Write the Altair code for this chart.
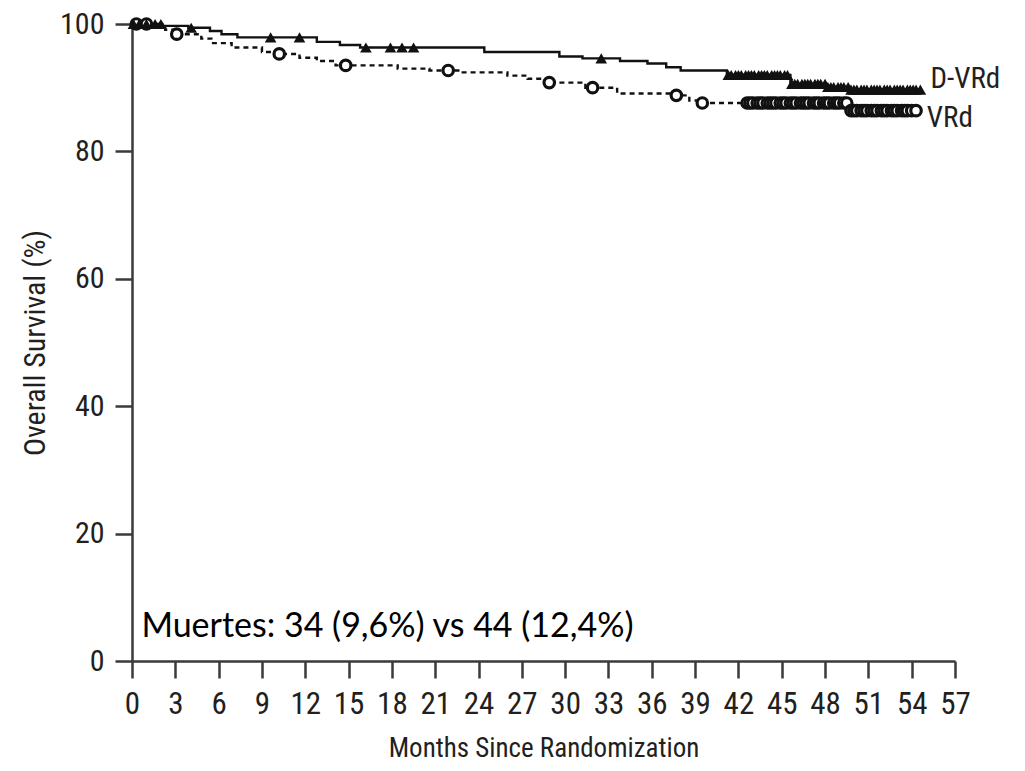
import altair as alt
import pandas as pd
import numpy as np

# ---- data ----
dvrd_t = [0, 2.1, 3.9, 5.4, 6.2, 7.3, 12.8, 14.4, 15.8, 24.4, 29.6, 31.2, 33.8, 35.7, 37.0, 38.0, 41.2, 45.6, 48.1, 49.7, 54.6]
dvrd_s = [100, 99.7, 99.4, 98.9, 98.4, 97.9, 97.2, 96.7, 96.3, 95.6, 94.9, 94.6, 94.2, 93.8, 93.2, 92.7, 92.0, 90.6, 90.1, 89.7, 89.7]

vrd_t = [0, 1.2, 2.3, 2.8, 4.8, 5.5, 6.9, 9.0, 9.7, 11.6, 12.8, 14.1, 18.4, 20.6, 22.7, 26.0, 27.4, 28.6, 31.4, 33.6, 37.3, 38.6, 39.3, 49.7, 54.4]
vrd_s = [100, 99.7, 99.1, 98.4, 97.7, 97.0, 96.3, 95.6, 95.3, 94.7, 94.2, 93.5, 93.0, 92.7, 92.4, 91.9, 91.4, 90.8, 90.0, 89.1, 88.8, 88.0, 87.6, 86.4, 86.4]

dvrd_cens = [0.1, 0.5, 1.0, 1.6, 2.0, 4.1, 9.6, 11.6, 16.2, 17.9, 18.7, 19.5, 32.5,
             41.3, 41.5, 41.8, 42.0, 42.2, 42.5, 42.7, 42.9, 43.1, 43.4, 43.6, 43.8, 44.0, 44.3,
             44.5, 44.7, 44.9, 45.2, 45.4, 45.7, 45.9, 46.1, 46.4, 46.6, 46.8, 47.0, 47.3, 47.5,
             47.7, 48.0, 48.2, 48.4, 48.6, 48.9, 49.1, 49.3, 49.6, 49.8, 50.0, 50.2, 50.5, 50.7,
             50.9, 51.2, 51.4, 51.6, 51.8, 52.1, 52.3, 52.5, 52.8, 53.0, 53.2, 53.4, 53.7, 53.9,
             54.1, 54.3, 54.6]
vrd_cens = [0.3, 1.0, 3.1, 10.2, 14.8, 21.9, 28.9, 31.9, 37.7, 39.5,
            42.6, 42.8, 43.0, 43.3, 43.5, 43.7, 44.0, 44.2, 44.4, 44.6, 44.9, 45.1, 45.3, 45.6,
            45.8, 46.0, 46.3, 46.5, 46.7, 46.9, 47.2, 47.4, 47.6, 47.9, 48.1, 48.3, 48.6, 48.8,
            49.0, 49.3, 49.5, 49.8, 50.0, 50.2, 50.5, 50.7, 50.9, 51.2, 51.4, 51.6, 51.9, 52.1,
            52.3, 52.6, 52.8, 53.0, 53.3, 53.5, 53.7, 54.0, 54.3]

series_names = ["D-VRd", "VRd"]
label_t = [55.3, 55.05]
label_s = [91.3, 85.3]

x_ticks = list(range(0, 58, 3))
y_ticks = [0, 20, 40, 60, 80, 100]

note_text = ["Muertes: 34 (9,6%) vs 44 (12,4%)"]
note_t = [0.65]
note_s = [3.7]


def step_value(times, surv, t):
    idx = np.searchsorted(np.array(times), t, side="right") - 1
    return surv[max(idx, 0)]


dvrd_df = pd.DataFrame({"t": dvrd_t, "s": dvrd_s})
vrd_df = pd.DataFrame({"t": vrd_t, "s": vrd_s})
dvrd_c = pd.DataFrame({"t": dvrd_cens, "s": [step_value(dvrd_t, dvrd_s, t) for t in dvrd_cens]})
vrd_c = pd.DataFrame({"t": vrd_cens, "s": [step_value(vrd_t, vrd_s, t) for t in vrd_cens]})
lab_df = pd.DataFrame({"name": series_names, "t": label_t, "s": label_s})
note_df = pd.DataFrame({"txt": note_text, "t": note_t, "s": note_s})

NARROW = "Liberation Sans Narrow, Roboto Condensed, DejaVu Sans Condensed, Arial Narrow, sans-serif"
INK = "#231f20"
AXC = "#3a3a3a"

xscale = alt.Scale(domain=[0, 57], nice=False, zero=False)
yscale = alt.Scale(domain=[0, 100], nice=False)

xaxis = alt.Axis(values=x_ticks, title="Months Since Randomization", grid=False,
                 tickSize=17, tickWidth=2.5, domainWidth=2.5, domainColor=AXC, tickColor=AXC,
                 labelFont=NARROW, labelFontSize=31, labelColor=INK, labelPadding=11,
                 titleFont=NARROW, titleFontSize=27, titleFontWeight="normal", titleColor=INK,
                 titlePadding=16, labelFlush=False)
yaxis = alt.Axis(values=y_ticks, title="Overall Survival (%)", grid=False,
                 tickSize=17, tickWidth=2.5, domainWidth=2.5, domainColor=AXC, tickColor=AXC,
                 labelFont=NARROW, labelFontSize=30, labelColor=INK, labelPadding=11,
                 titleFont=NARROW, titleFontSize=30, titleFontWeight="normal", titleColor=INK,
                 titlePadding=9, labelFlush=False)

enc_x = alt.X("t:Q", scale=xscale, axis=xaxis)
enc_y = alt.Y("s:Q", scale=yscale, axis=yaxis)

line_d = alt.Chart(dvrd_df).mark_line(interpolate="step-after", color="#111", strokeWidth=2.4).encode(x=enc_x, y=enc_y)
line_v = alt.Chart(vrd_df).mark_line(interpolate="step-after", color="#111", strokeWidth=2.4, strokeDash=[5, 4]).encode(
    x=alt.X("t:Q", scale=xscale), y=alt.Y("s:Q", scale=yscale))

circ = alt.Chart(vrd_c).mark_point(shape="circle", filled=False, color="#111", fill="white",
                                   fillOpacity=1, strokeWidth=3.2, size=110, opacity=1).encode(
    x=alt.X("t:Q", scale=xscale), y=alt.Y("s:Q", scale=yscale))
tri = alt.Chart(dvrd_c).mark_point(shape="triangle-up", filled=True, color="#111", size=135, opacity=1).encode(
    x=alt.X("t:Q", scale=xscale), y=alt.Y("s:Q", scale=yscale))

labels = alt.Chart(lab_df).mark_text(align="left", baseline="middle", font=NARROW, fontSize=29, color=INK).encode(
    x=alt.X("t:Q", scale=xscale), y=alt.Y("s:Q", scale=yscale), text="name:N")

note = alt.Chart(note_df).mark_text(align="left", baseline="alphabetic", font="Lato, Open Sans, sans-serif",
                                     fontSize=34, color="#000").encode(
    x=alt.X("t:Q", scale=xscale), y=alt.Y("s:Q", scale=yscale), text="txt:N")

chart = alt.layer(line_d, line_v, circ, tri, labels, note).properties(
    width=823, height=637,
    padding={"left": 124, "top": 16, "right": 62, "bottom": 108},
    autosize=alt.AutoSizeParams(type="none"),
    background="white",
).configure_view(stroke=None)

chart.save("out.html", embed_options={"renderer": "svg", "actions": False})
